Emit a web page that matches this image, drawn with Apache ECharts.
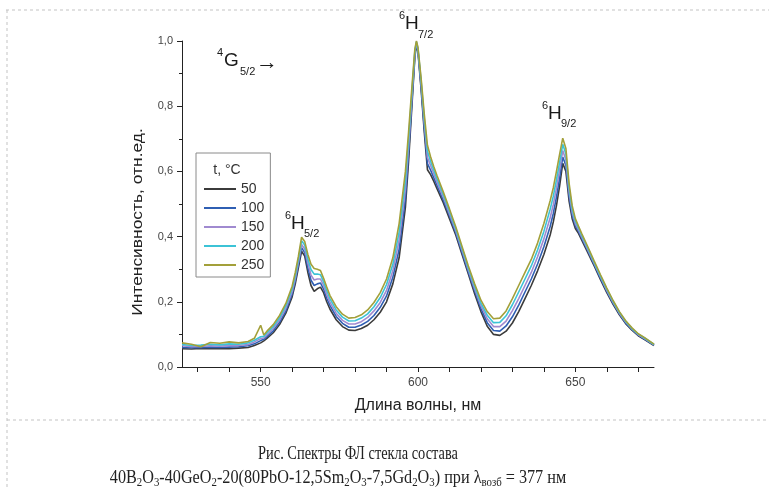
<!DOCTYPE html>
<html>
<head>
<meta charset="utf-8">
<script src="https://cdn.jsdelivr.net/npm/echarts@6/dist/echarts.min.js"></script>
<style>
html,body{margin:0;padding:0;background:#fff;}
#c{width:769px;height:490px;}
</style>
</head>
<body>
<div id="c"></div>
<script>
const wavelengths = [525,528,531,534,537,540,543,546,548,550,551,552,554,556,558,560,561,562,563,564,565,566,567,568,569,570,571,572,574,576,578,580,582,584,586,588,590,592,594,596,597,598,599,599.5,600,601,602,603,604,605,606,608,610,612,614,616,618,620,622,624,626,628,630,632,634,636,638,640,642,643,644,645,646,647,648,649,650,651,652,654,656,658,660,662,664,666,668,670,672,675];

const t50 = [0.056,0.055,0.057,0.056,0.057,0.056,0.058,0.060,0.066,0.074,0.080,0.088,0.105,0.130,0.165,0.215,0.255,0.305,0.355,0.340,0.290,0.250,0.232,0.240,0.245,0.228,0.200,0.178,0.145,0.124,0.113,0.112,0.118,0.128,0.145,0.168,0.200,0.255,0.335,0.490,0.630,0.790,0.950,0.990,0.965,0.850,0.720,0.605,0.590,0.570,0.548,0.505,0.455,0.405,0.345,0.285,0.225,0.170,0.125,0.100,0.097,0.110,0.135,0.170,0.210,0.250,0.295,0.345,0.405,0.445,0.495,0.555,0.625,0.600,0.510,0.455,0.425,0.410,0.390,0.350,0.310,0.268,0.228,0.192,0.160,0.133,0.113,0.096,0.084,0.066];
const t100 = [0.060,0.059,0.059,0.061,0.060,0.061,0.062,0.065,0.071,0.081,0.085,0.093,0.111,0.137,0.172,0.223,0.264,0.314,0.366,0.351,0.304,0.266,0.250,0.255,0.258,0.239,0.211,0.189,0.155,0.134,0.122,0.122,0.129,0.140,0.158,0.183,0.218,0.275,0.361,0.518,0.653,0.805,0.956,0.993,0.969,0.859,0.734,0.624,0.604,0.581,0.558,0.513,0.463,0.411,0.351,0.291,0.233,0.179,0.136,0.112,0.110,0.126,0.154,0.190,0.230,0.270,0.316,0.369,0.431,0.471,0.521,0.579,0.644,0.618,0.524,0.465,0.433,0.416,0.395,0.355,0.314,0.272,0.232,0.195,0.163,0.135,0.115,0.098,0.086,0.067];
const t150 = [0.065,0.062,0.063,0.065,0.064,0.066,0.066,0.069,0.077,0.087,0.089,0.099,0.118,0.144,0.180,0.231,0.272,0.322,0.376,0.362,0.318,0.282,0.267,0.270,0.270,0.250,0.222,0.199,0.165,0.143,0.132,0.132,0.139,0.152,0.172,0.198,0.235,0.295,0.388,0.545,0.675,0.820,0.963,0.995,0.973,0.868,0.748,0.643,0.618,0.593,0.568,0.522,0.470,0.418,0.358,0.298,0.240,0.188,0.148,0.124,0.124,0.141,0.173,0.210,0.250,0.290,0.338,0.393,0.458,0.498,0.548,0.604,0.664,0.635,0.538,0.475,0.440,0.421,0.400,0.359,0.318,0.276,0.235,0.198,0.165,0.138,0.117,0.099,0.087,0.068];
const t200 = [0.069,0.066,0.067,0.070,0.068,0.071,0.070,0.074,0.082,0.093,0.094,0.105,0.124,0.151,0.188,0.240,0.281,0.331,0.387,0.374,0.331,0.299,0.285,0.285,0.283,0.261,0.234,0.210,0.175,0.153,0.141,0.142,0.150,0.163,0.185,0.213,0.253,0.315,0.414,0.573,0.698,0.835,0.969,0.998,0.976,0.876,0.761,0.661,0.631,0.604,0.578,0.530,0.478,0.424,0.364,0.304,0.248,0.196,0.159,0.136,0.137,0.157,0.191,0.230,0.270,0.310,0.359,0.416,0.484,0.524,0.574,0.628,0.683,0.653,0.551,0.485,0.448,0.427,0.405,0.364,0.321,0.279,0.239,0.201,0.168,0.140,0.118,0.101,0.089,0.069];
const t250 = [0.074,0.070,0.062,0.075,0.073,0.077,0.074,0.078,0.088,0.128,0.098,0.110,0.130,0.158,0.195,0.248,0.290,0.340,0.398,0.385,0.345,0.315,0.302,0.300,0.296,0.272,0.245,0.220,0.185,0.162,0.150,0.152,0.160,0.175,0.198,0.228,0.270,0.335,0.440,0.600,0.720,0.850,0.975,1.000,0.980,0.885,0.775,0.680,0.645,0.615,0.588,0.538,0.485,0.430,0.370,0.310,0.255,0.205,0.170,0.148,0.150,0.172,0.210,0.250,0.290,0.330,0.380,0.440,0.510,0.550,0.600,0.652,0.702,0.670,0.565,0.495,0.455,0.432,0.410,0.368,0.325,0.283,0.242,0.204,0.170,0.142,0.120,0.102,0.090,0.070];

const seriesNames = ['50','100','150','200','250'];
const seriesValues = [t50, t100, t150, t200, t250];
const seriesColors = ['#3b3b3b','#2f5fb3','#a08ad0','#3cc3d6','#a3a03a'];

const xTickValues = [530,540,550,560,570,580,590,600,610,620,630,640,650,660,670];
const xLabelValues = [550,600,650];
const yTickLabels = ['0,0','0,2','0,4','0,6','0,8','1,0'];

const SANS = 'Liberation Sans, Arial, sans-serif';
const SERIF = 'Liberation Serif, Times New Roman, serif';

const chart = echarts.init(document.getElementById('c'));

function txt(text, x, y, size, extra) {
  return Object.assign({
    type: 'text', z: 100,
    style: { text: text, x: x, y: y, fontSize: size, fontFamily: SANS, fill: '#1a1a1a',
             textAlign: 'left', textVerticalAlign: 'middle' }
  }, extra || {});
}
function dashLine(x1, y1, x2, y2) {
  return { type: 'line', z: 1, shape: { x1: x1, y1: y1, x2: x2, y2: y2 },
           style: { stroke: '#c4c4c4', lineWidth: 1, lineDash: [3, 3] } };
}

const caption2 = '{n|40B}{s|2}{n|O}{s|3}{n|-40GeO}{s|2}{n|-20(80PbO-12,5Sm}{s|2}{n|O}{s|3}{n|-7,5Gd}{s|2}{n|O}{s|3}{n|) при λ}{s|возб}{n| = 377 нм}';

const option = {
  animation: false,
  backgroundColor: '#ffffff',
  grid: { left: 182, right: 115, top: 41, bottom: 123 },
  xAxis: {
    type: 'value', min: 525, max: 675,
    name: 'Длина волны, нм', nameLocation: 'middle', nameGap: 31,
    nameTextStyle: { fontSize: 16, fontFamily: SANS, color: '#222' },
    axisLine: { show: true, lineStyle: { color: '#222', width: 1 } },
    axisTick: { show: true, inside: false, length: 5, customValues: xTickValues, lineStyle: { color: '#222' } },
    axisLabel: { show: true, customValues: xLabelValues, margin: 10, fontSize: 12, fontFamily: SANS, color: '#444' },
    splitLine: { show: false }
  },
  yAxis: {
    type: 'value', min: 0, max: 1, interval: 0.2,
    axisLine: { show: true, lineStyle: { color: '#222', width: 1 } },
    axisTick: { show: true, inside: false, length: 5, lineStyle: { color: '#222' } },
    minorTick: { show: true, splitNumber: 2, length: 3, lineStyle: { color: '#222' } },
    axisLabel: { margin: 9, fontSize: 11, fontFamily: SANS, color: '#444',
      formatter: function (v) { return yTickLabels[Math.round(v / 0.2)]; } },
    splitLine: { show: false }
  },
  legend: {
    orient: 'vertical', left: 196, top: 153,
    padding: [29, 6, 5, 7], itemGap: 5, itemWidth: 32, itemHeight: 14,
    borderColor: '#8a8a8a', borderWidth: 1, backgroundColor: '#ffffff',
    itemStyle: { opacity: 0 },
    textStyle: { fontSize: 14, fontFamily: SANS, color: '#333' },
    data: seriesNames
  },
  series: seriesNames.map(function (n, k) {
    return {
      name: n, type: 'line', symbol: 'none', smooth: false,
      lineStyle: { color: seriesColors[k], width: 1.6 },
      itemStyle: { color: seriesColors[k] },
      data: wavelengths.map(function (w, i) { return [w, seriesValues[k][i]]; }),
      z: 2 + k
    };
  }),
  graphic: [
    dashLine(6, 10, 769, 10),
    dashLine(7, 10, 7, 490),
    dashLine(7, 420, 769, 420),
    { type: 'text', z: 100, x: 138, y: 222, rotation: Math.PI / 2, scaleX: 1.16,
      style: { text: 'Интенсивность, отн.ед.', x: 0, y: 0, fontSize: 15, fontFamily: SANS, fill: '#222',
               textAlign: 'center', textVerticalAlign: 'middle' } },
    { type: 'text', z: 100,
      style: { text: 't, °C', x: 227, y: 170, fontSize: 14, fontFamily: SANS, fill: '#333', textAlign: 'center', textVerticalAlign: 'middle' } },
    // 4G5/2 ->
    txt('4', 217, 53, 11),
    txt('G', 224, 61, 19),
    txt('5/2', 240, 72, 11),
    txt('→', 256, 63, 22),
    // 6H7/2
    txt('6', 399, 16, 11),
    txt('H', 405, 24, 19),
    txt('7/2', 418, 35, 11),
    // 6H5/2
    txt('6', 285, 216, 11),
    txt('H', 291, 224, 19),
    txt('5/2', 304, 234, 11),
    // 6H9/2
    txt('6', 542, 106, 11),
    txt('H', 548, 114, 19),
    txt('9/2', 561, 124, 11),
    { type: 'text', z: 100, x: 358, y: 454, scaleX: 0.8,
      style: { text: 'Рис. Спектры ФЛ стекла состава', x: 0, y: 0, fontSize: 18, fontFamily: SERIF,
               fill: '#222', textAlign: 'center', textVerticalAlign: 'middle' } },
    { type: 'text', z: 100, x: 338, y: 478, scaleX: 0.9,
      style: { text: caption2, x: 0, y: 0, textAlign: 'center', textVerticalAlign: 'middle', fill: '#222',
        rich: {
          n: { fontSize: 18, fontFamily: SERIF, color: '#222', lineHeight: 22, verticalAlign: 'middle' },
          s: { fontSize: 12, fontFamily: SERIF, color: '#222', lineHeight: 22, verticalAlign: 'bottom' }
        } } }
  ]
};
chart.setOption(option);
</script>
</body>
</html>
